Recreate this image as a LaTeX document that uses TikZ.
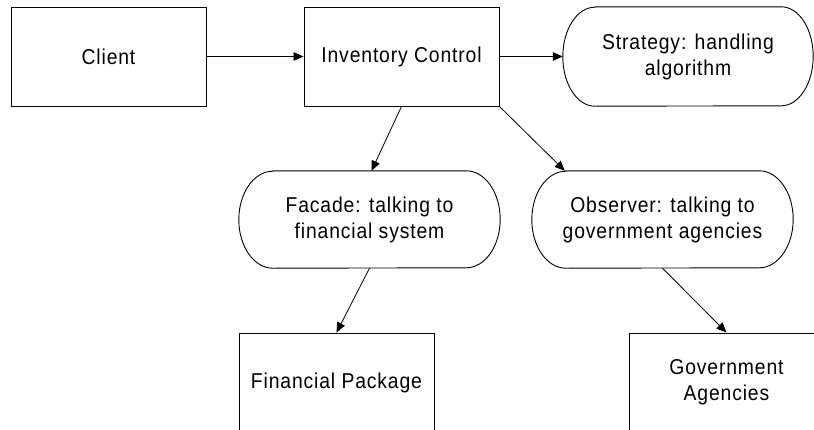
\documentclass[tikz,border=0pt]{standalone}
\usepackage{fontspec}
\setmainfont{Liberation Sans}[FakeStretch=0.9, LetterSpace=4]
\usetikzlibrary{arrows.meta}

\tikzset{
  every node/.style={font=\fontsize{21.5}{26}\selectfont, align=center, inner sep=0pt},
  boxnode/.style={draw, line width=0.9pt, minimum width=195pt, minimum height=99pt},
  pillnode/.style={minimum height=97pt},
  link/.style={line width=0.8pt, -{Triangle[length=10pt,width=8.5pt]}},
  outline/.style={line width=0.9pt}
}

% outline of a pill-shaped node with elliptical caps
\newcommand{\pilloutline}[2]{%
  \draw[outline] ([xshift=#2]#1.north west) -- ([xshift=-#2]#1.north east)
    arc[start angle=90, end angle=-90, x radius=#2, y radius=48.5pt]
    -- ([xshift=#2]#1.south west)
    arc[start angle=270, end angle=90, x radius=#2, y radius=48.5pt] -- cycle;}

\begin{document}
\begin{tikzpicture}[x=1pt, y=-1pt]
  \useasboundingbox (0,0) rectangle (814,429);
  \fill[white] (0,0) rectangle (814,429);
  \clip (0,0) rectangle (814,429);

  % top row
  \node[boxnode] (client) at (108.5,56.5) {Client};
  \node[boxnode] (inv) at (401.5,56.5) {Inventory Control};
  \node[pillnode, minimum width=250pt, minimum height=99pt] (strat) at (688,56.5) {Strategy: handling\\algorithm};
  \draw[outline] ([xshift=32pt]strat.north west) -- ([xshift=-32pt]strat.north east)
    arc[start angle=90, end angle=-90, x radius=32pt, y radius=49.5pt]
    -- ([xshift=32pt]strat.south west)
    arc[start angle=270, end angle=90, x radius=32pt, y radius=49.5pt] -- cycle;

  % pattern row
  \node[pillnode, minimum width=261pt] (facade) at (369.5,219.5) {Facade: talking to\\financial system};
  \pilloutline{facade}{34pt}
  \node[pillnode, minimum width=261pt] (obs) at (662.5,219.5) {Observer: talking to\\government agencies};
  \pilloutline{obs}{34pt}

  % bottom row
  \node[boxnode] (fin) at (336.5,382.5) {Financial Package};
  \node[boxnode] (gov) at (726.5,382.5) {Government\\Agencies};

  % connectors
  \draw[link] (client.east) -- (inv.west);
  \draw[link] (inv.east) -- (strat.west);
  \draw[link] (inv.south) -- ([xshift=2pt]facade.north);
  \draw[link] (inv.south east) -- ([xshift=33pt]obs.north west);
  \draw[link] (facade.south) -- (fin.north);
  \draw[link] (obs.south) -- (gov.north);
\end{tikzpicture}
\end{document}
